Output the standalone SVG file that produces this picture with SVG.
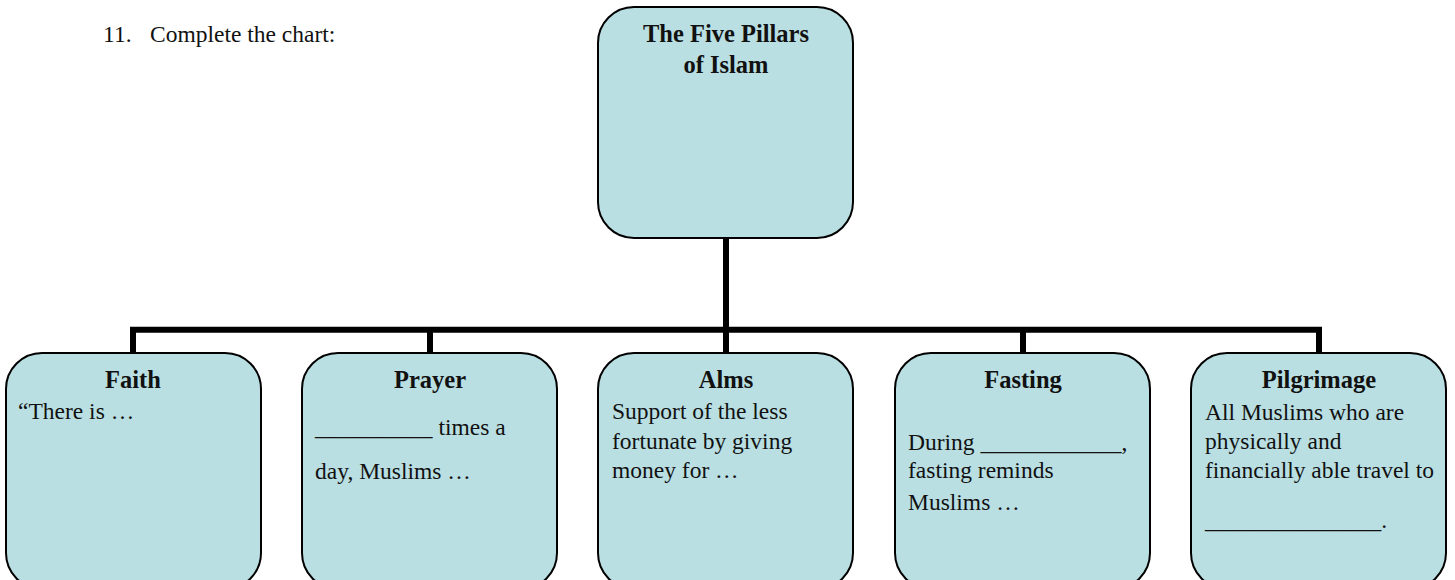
<svg xmlns="http://www.w3.org/2000/svg" width="1455" height="580" viewBox="0 0 1455 580">
  <style>
    .box { fill: #b9dfe3; stroke: #000; stroke-width: 2; }
    .conn { stroke: #000; stroke-width: 6; fill: none; stroke-linecap: butt; }
    .t { font-family: "Liberation Serif", "Times New Roman", serif; font-size: 23.5px; fill: #111; }
    .h { font-family: "Liberation Serif", "Times New Roman", serif; font-size: 24.5px; font-weight: bold; fill: #111; text-anchor: middle; }
  </style>
  <rect width="1455" height="580" fill="#fff"/>
  <g id="instruction">
    <text class="t" x="103" y="42">11.</text>
    <text class="t" x="150" y="42">Complete the chart:</text>
  </g>
  <g id="connectors">
    <line class="conn" x1="726" y1="238" x2="726" y2="353"/>
    <line class="conn" x1="130" y1="329.7" x2="1322" y2="329.7"/>
    <line class="conn" x1="133" y1="327" x2="133" y2="353"/>
    <line class="conn" x1="430" y1="327" x2="430" y2="353"/>
    <line class="conn" x1="1023" y1="327" x2="1023" y2="353"/>
    <line class="conn" x1="1319" y1="327" x2="1319" y2="353"/>
  </g>
  <g id="root">
    <rect class="box" x="598" y="7" width="255" height="231" rx="36"/>
    <text class="h" x="726" y="42">The Five Pillars</text>
    <text class="h" x="726" y="73">of Islam</text>
  </g>
  <g id="faith">
    <rect class="box" x="6" y="353" width="255" height="236" rx="36"/>
    <text class="h" x="133" y="388">Faith</text>
    <text class="t" x="18" y="419">“There is …</text>
  </g>
  <g id="prayer">
    <rect class="box" x="302" y="353" width="255" height="236" rx="36"/>
    <text class="h" x="430" y="388">Prayer</text>
    <text class="t" x="315" y="435">__________ times a</text>
    <text class="t" x="315" y="479">day, Muslims …</text>
  </g>
  <g id="alms">
    <rect class="box" x="598" y="353" width="255" height="236" rx="36"/>
    <text class="h" x="726" y="388">Alms</text>
    <text class="t" x="612" y="419">Support of the less</text>
    <text class="t" x="612" y="449">fortunate by giving</text>
    <text class="t" x="612" y="478">money for …</text>
  </g>
  <g id="fasting">
    <rect class="box" x="895" y="353" width="255" height="236" rx="36"/>
    <text class="h" x="1023" y="388">Fasting</text>
    <text class="t" x="908" y="450">During ____________,</text>
    <text class="t" x="908" y="478">fasting reminds</text>
    <text class="t" x="908" y="510">Muslims …</text>
  </g>
  <g id="pilgrimage">
    <rect class="box" x="1191" y="353" width="255" height="236" rx="36"/>
    <text class="h" x="1319" y="388">Pilgrimage</text>
    <text class="t" x="1205" y="420">All Muslims who are</text>
    <text class="t" x="1205" y="449">physically and</text>
    <text class="t" x="1205" y="478">financially able travel to</text>
    <text class="t" x="1205" y="528">_______________.</text>
  </g>
</svg>
